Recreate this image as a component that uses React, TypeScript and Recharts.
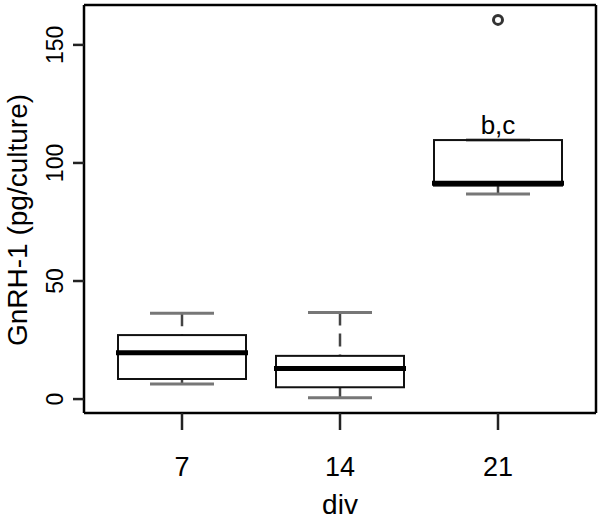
import { ComposedChart, Bar, Line, XAxis, YAxis, LabelList } from 'recharts'

document.body.style.margin = '0'

const divLabels = ['7', '14', '21']
const whiskerLow = [6.4, 0.6, 86.9]
const lowerQuartile = [8.5, 5.0, 90.4]
const medians = [19.6, 13.0, 91.4]
const upperQuartile = [27.1, 18.3, 109.7]
const whiskerHigh = [36.4, 36.7, 109.7]
const outliers: Array<number | null> = [null, null, 160.6]
const letters = ['', '', 'b,c']
const yTicks = [0, 50, 100, 150]

const data = divLabels.map((div, i) => ({
  div,
  low: whiskerLow[i],
  q1: lowerQuartile[i],
  median: medians[i],
  q3: upperQuartile[i],
  high: whiskerHigh[i],
  outlier: outliers[i],
  letters: letters[i],
}))

const FONT = '"Liberation Sans", Arial, sans-serif'
const Y_DOMAIN = [-5.9, 166.9]
const X_PAD = { left: 19, right: 19 }

// box + whiskers, drawn from the range bar [q1, q3] the library places
function BoxShape(props: any) {
  const { x, y, width, height, payload } = props
  if (x == null || y == null) return null
  const top = Math.min(y, y + height)
  const h = Math.abs(height)
  const unit = h / (payload.q3 - payload.q1)
  const py = (v: number) => top + (payload.q3 - v) * unit
  const cx = x + width / 2
  const capHalf = width / 4
  return (
    <g>
      <line x1={cx} x2={cx} y1={py(payload.high)} y2={py(payload.q3)} stroke="#444" strokeWidth={2.5} strokeDasharray="13 8" />
      <line x1={cx} x2={cx} y1={py(payload.low)} y2={py(payload.q1)} stroke="#444" strokeWidth={2.5} strokeDasharray="13 8" />
      <line x1={cx - capHalf} x2={cx + capHalf} y1={py(payload.high)} y2={py(payload.high)} stroke="#777" strokeWidth={3} />
      <line x1={cx - capHalf} x2={cx + capHalf} y1={py(payload.low)} y2={py(payload.low)} stroke="#777" strokeWidth={3} />
      <rect x={x} y={top} width={width} height={h} fill="none" stroke="#111" strokeWidth={2} />
      <line x1={x - 2} x2={x + width + 2} y1={py(payload.median)} y2={py(payload.median)} stroke="#000" strokeWidth={5} />
    </g>
  )
}

function XTick({ x, y, payload }: any) {
  return (
    <text x={x} y={y + 44} textAnchor="middle" fontSize={27} fontFamily={FONT} fill="#000">
      {payload.value}
    </text>
  )
}

function YTick({ x, y, payload }: any) {
  const bx = x - 8
  return (
    <text x={bx} y={y} transform={`rotate(-90, ${bx}, ${y})`} textAnchor="middle" fontSize={23} fontFamily={FONT} fill="#000">
      {payload.value}
    </text>
  )
}

function OutlierDot(p: any) {
  if (p.value == null || p.cy == null) return <g key={p.index} />
  return <circle key={p.index} cx={p.cx} cy={p.cy} r={4.5} fill="#fff" stroke="#333" strokeWidth={3} />
}

export default function App() {
  return (
    <ComposedChart width={600} height={520} data={data} margin={{ top: 4, right: 3, bottom: 0, left: 0 }}>
      <XAxis
        dataKey="div"
        padding={X_PAD}
        height={107}
        interval={0}
        tickSize={17}
        tick={<XTick />}
        axisLine={{ stroke: '#000', strokeWidth: 2.5 }}
        tickLine={{ stroke: '#222', strokeWidth: 2.5 }}
        label={{
          content: ({ viewBox }: any) => (
            <text x={viewBox.x + viewBox.width / 2} y={viewBox.y + 101} textAnchor="middle" fontSize={28} fontFamily={FONT} fill="#000">
              div
            </text>
          ),
        }}
      />
      <XAxis
        xAxisId="top"
        orientation="top"
        dataKey="div"
        padding={X_PAD}
        height={1}
        tick={false}
        tickLine={false}
        axisLine={{ stroke: '#000', strokeWidth: 2.5 }}
      />
      <YAxis
        type="number"
        domain={Y_DOMAIN}
        allowDataOverflow
        ticks={yTicks}
        width={84}
        tickSize={11}
        tick={<YTick />}
        axisLine={{ stroke: '#000', strokeWidth: 2.5 }}
        tickLine={{ stroke: '#222', strokeWidth: 2.5 }}
        label={{
          content: ({ viewBox }: any) => {
            const lx = viewBox.x + 27
            const ly = viewBox.y + viewBox.height / 2 + 11
            return (
              <text x={lx} y={ly} transform={`rotate(-90, ${lx}, ${ly})`} textAnchor="middle" fontSize={28} fontFamily={FONT} fill="#000">
                GnRH-1 (pg/culture)
              </text>
            )
          },
        }}
      />
      <YAxis
        yAxisId="right"
        orientation="right"
        type="number"
        domain={Y_DOMAIN}
        allowDataOverflow
        width={1}
        tick={false}
        tickLine={false}
        axisLine={{ stroke: '#000', strokeWidth: 2.5 }}
      />
      <Bar dataKey={(d: any) => [d.q1, d.q3]} barSize={128} shape={<BoxShape />} isAnimationActive={false}>
        <LabelList dataKey="letters" position="top" offset={6} fill="#000" fontSize={26} fontFamily={FONT} />
      </Bar>
      <Line
        xAxisId="top"
        yAxisId="right"
        dataKey="outlier"
        stroke="none"
        dot={OutlierDot}
        activeDot={false}
        isAnimationActive={false}
      />
    </ComposedChart>
  )
}
